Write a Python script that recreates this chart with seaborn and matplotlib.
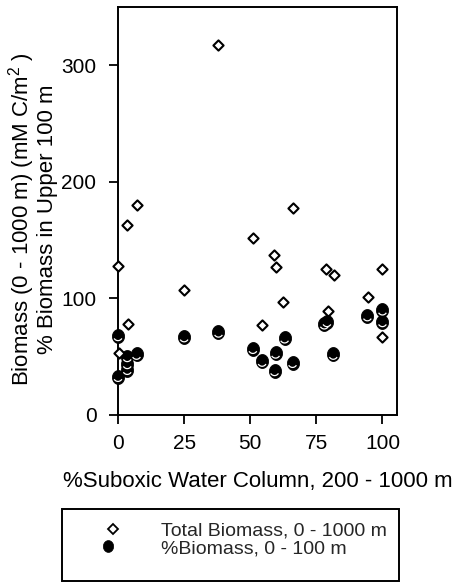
import numpy as np
import pandas as pd
import matplotlib
matplotlib.use("Agg")
import matplotlib.pyplot as plt
import seaborn as sns
from matplotlib.path import Path
from matplotlib.lines import Line2D
from matplotlib.patches import Rectangle
from matplotlib.legend_handler import HandlerTuple

# ---- data ----
total_x = [0, 3.5, 7, 25, 3.7, 0.4, 38, 51, 59, 59.6, 66, 62.5, 54.5, 78.5, 81.5, 79.5, 94.5, 100, 100]
total_y = [128, 163, 180, 107, 78, 53, 317, 152, 137, 127, 178, 97, 77, 125, 120, 89, 101, 125, 67]

pct_x = [0, 0, 3.5, 3.5, 3.5, 7, 25, 38, 51, 54.5, 59.6, 59.2, 63, 66, 78, 79, 81.4, 94.3, 100, 100]
pct_y = [68, 33, 50, 44, 39, 52, 67, 71, 57, 46, 53, 38, 66, 45, 78, 80, 52, 85, 90, 80]

x_ticks = [0, 25, 50, 75, 100]
y_ticks = [0, 100, 200, 300]
legend_labels = ["Total Biomass, 0 - 1000 m", "%Biomass, 0 - 100 m"]
x_label = "%Suboxic Water Column, 200 - 1000 m"
y_label = "Biomass (0 - 1000 m) (mM C/m$^2$ )\n% Biomass in Upper 100 m"

total_df = pd.DataFrame({"x": total_x, "y": total_y})
pct_df = pd.DataFrame({"x": pct_x, "y": pct_y})

# ---- style ----
sns.set_theme(style="ticks")
plt.rcParams['font.family'] = ['Liberation Sans', 'DejaVu Sans']
plt.rcParams['mathtext.fontset'] = 'custom'
plt.rcParams['mathtext.rm'] = 'Liberation Sans'
plt.rcParams['mathtext.it'] = 'Liberation Sans:italic'
plt.rcParams['mathtext.bf'] = 'Liberation Sans:bold'

W, H = 456, 584
fig = plt.figure(figsize=(W / 100, H / 100), dpi=100)
ax = fig.add_axes([118 / W, 1 - 415 / H, (397 - 118) / W, (415 - 7) / H])

# custom markers: slightly tall black ellipse with a white highlight arc
t = np.linspace(0, 2 * np.pi, 64)
ell_path = Path(np.column_stack([np.cos(t), 1.15 * np.sin(t)]), closed=True)
a = np.linspace(np.radians(215), np.radians(325), 24)
arc_path = Path(np.column_stack([0.78 * np.cos(a), 0.05 + 0.86 * np.sin(a)]))
ell_max = 1.15
arc_max = np.max(np.abs(arc_path.vertices))

ms_c = 10.0
ms_arc = ms_c * arc_max / ell_max

sns.scatterplot(data=pct_df, x="x", y="y", ax=ax, marker=ell_path, s=ms_c ** 2,
                color="black", edgecolor="black", linewidth=0.6, clip_on=False, zorder=3)
sns.scatterplot(data=pct_df, x="x", y="y", ax=ax, marker=arc_path, s=ms_arc ** 2,
                facecolor="none", edgecolor="white", linewidth=0.9, clip_on=False, zorder=4)
sns.scatterplot(data=total_df, x="x", y="y", ax=ax, marker="D", s=5.2 ** 2,
                color="white", edgecolor="black", linewidth=1.5, clip_on=False, zorder=5)

ax.set_xlim(0, 105.5)
ax.set_ylim(0, 350)
ax.set_xticks(x_ticks)
ax.set_yticks(y_ticks)
ax.tick_params(direction="out", length=6.5, width=1.3, labelsize=15, colors="black")
ax.tick_params(axis="y", pad=9)
ax.tick_params(axis="x", pad=7)
for sp in ax.spines.values():
    sp.set_visible(True)
    sp.set_color("black")
    sp.set_linewidth(1.4)

ax.set_xlabel(x_label, fontsize=16, labelpad=13, color="black")
ax.set_ylabel(y_label, fontsize=16, linespacing=1.0, color="black")
ax.yaxis.set_label_coords(-0.215, 0.48)

# ---- legend ----
h1 = Line2D([], [], marker="D", ls="", mfc="white", mec="black", ms=5.0, mew=1.3)
h2a = Line2D([], [], marker=ell_path, ls="", mfc="black", mec="black", ms=8.5, mew=0.5)
h2b = Line2D([], [], marker=arc_path, ls="", mfc="none", mec="white", ms=8.5 * arc_max / ell_max, mew=0.8)
fig.legend([h1, (h2a, h2b)], legend_labels, loc="upper left",
           bbox_to_anchor=(103 / W, 1 - 522 / H), frameon=False, fontsize=14,
           handlelength=1.0, handletextpad=2.0, labelspacing=0.0, borderpad=0,
           borderaxespad=0, handler_map={tuple: HandlerTuple(ndivide=None, pad=0)})
fig.add_artist(Rectangle((62 / W, 1 - 581 / H), (399 - 62) / W, (581 - 509) / H,
                         transform=fig.transFigure, fill=False, lw=1.4, ec="black"))

fig.savefig("out.png", dpi=100)
